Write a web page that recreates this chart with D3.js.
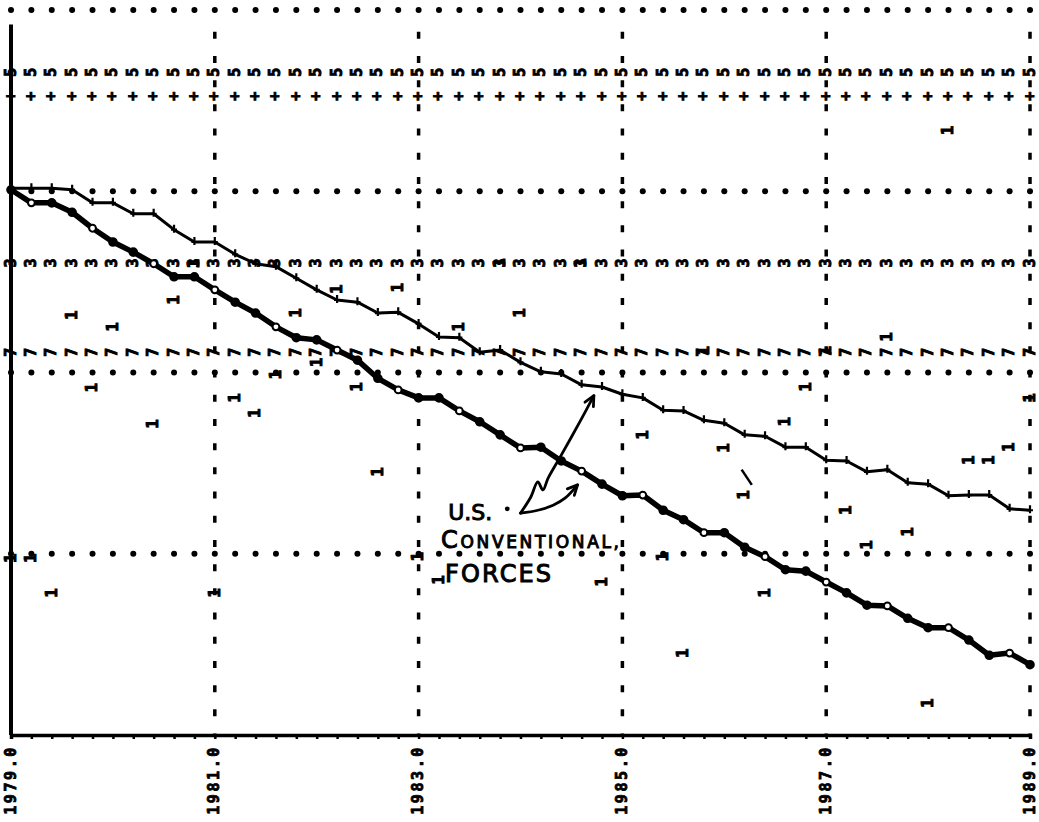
<!DOCTYPE html>
<html>
<head>
<meta charset="utf-8">
<script src="https://cdn.jsdelivr.net/npm/d3@7/dist/d3.min.js"></script>
<style>
  body { margin: 0; background: #fff; }
  svg { display: block; }
</style>
</head>
<body>
<div id="chart"></div>
<script>
// sample points along the time axis (every 0.2 yr, as on the printout)
const years = [1979.0, 1979.2, 1979.4, 1979.6, 1979.8, 1980.0, 1980.2, 1980.4, 1980.6, 1980.8,
  1981.0, 1981.2, 1981.4, 1981.6, 1981.8, 1982.0, 1982.2, 1982.4, 1982.6, 1982.8,
  1983.0, 1983.2, 1983.4, 1983.6, 1983.8, 1984.0, 1984.2, 1984.4, 1984.6, 1984.8,
  1985.0, 1985.2, 1985.4, 1985.6, 1985.8, 1986.0, 1986.2, 1986.4, 1986.6, 1986.8,
  1987.0, 1987.2, 1987.4, 1987.6, 1987.8, 1988.0, 1988.2, 1988.4, 1988.6, 1988.8, 1989.0];

// thin upper trace
const upperSeries = [75.4, 75.4, 75.4, 75.2, 73.4, 73.4, 71.9, 71.9, 69.7, 68.0,
  68.0, 66.3, 65.0, 64.6, 63.0, 61.4, 60.0, 59.7, 58.2, 58.3,
  56.7, 54.9, 54.8, 52.8, 53.1, 51.4, 50.1, 49.8, 48.3, 48.0,
  47.0, 46.5, 44.8, 44.7, 43.4, 43.0, 41.4, 41.2, 39.7, 39.7,
  37.9, 37.8, 36.3, 36.6, 34.8, 34.6, 33.0, 33.1, 33.1, 31.2, 31.0];

// heavy lower trace
const lowerSeries = [75.2, 73.4, 73.4, 72.1, 69.9, 68.0, 66.6, 65.0, 63.2, 63.2,
  61.4, 59.7, 58.2, 56.3, 54.8, 54.5, 53.1, 51.7, 49.2, 47.6,
  46.5, 46.5, 44.7, 43.2, 41.4, 39.6, 39.7, 37.8, 36.4, 34.6,
  33.0, 33.1, 31.0, 29.7, 27.9, 27.9, 25.9, 24.6, 22.8, 22.6,
  21.1, 19.6, 17.9, 17.8, 16.1, 14.8, 14.8, 13.1, 11.0, 11.3, 9.7];

// constant reference rows printed with a character
const refMarks = ["5", "+", "3", "7"];
const refValues = [91.4, 88.1, 65.1, 52.8];

// scattered "1" points [year, value]
const onePoints = [
  [1979.6, 57.9], [1980.0, 56.3], [1980.6, 60.0], [1980.8, 65.0], [1979.8, 47.9],
  [1981.2, 46.5], [1981.4, 44.4], [1980.4, 42.9], [1981.8, 58.2], [1982.0, 51.4],
  [1981.6, 49.7], [1982.2, 61.5], [1982.8, 61.7], [1983.4, 56.3], [1984.0, 58.2],
  [1983.8, 65.1], [1984.6, 65.1], [1982.4, 48.0], [1987.6, 54.9], [1986.8, 48.0],
  [1986.6, 43.2], [1989.0, 46.5], [1979.2, 24.4], [1979.0, 24.4], [1979.4, 19.6],
  [1981.0, 19.6], [1982.6, 36.3], [1985.2, 41.4], [1983.0, 24.6], [1983.2, 21.4],
  [1984.8, 21.1], [1985.4, 24.6], [1985.6, 11.3], [1986.0, 39.6], [1988.8, 39.7],
  [1988.4, 37.9], [1988.6, 37.9], [1986.2, 33.1], [1987.2, 31.0], [1987.8, 28.0],
  [1987.4, 26.2], [1986.4, 19.6], [1988.0, 4.4], [1985.8, 53.0], [1987.0, 53.0],
  [1988.2, 83.4]
];

const xTicks = [1979, 1981, 1983, 1985, 1987, 1989];
const yGrid = [25, 50, 75, 100];

const width = 1039, height = 822;

const svg = d3.select("#chart").append("svg")
  .attr("width", width)
  .attr("height", height)
  .style("background", "#fff");

const x = d3.scaleLinear().domain([1979, 1989]).range([11, 1030]);
const y = d3.scaleLinear().domain([0, 100]).range([735, 10]);

const mono = "'DejaVu Sans Mono', 'Liberation Mono', monospace";

// printer glyph, rotated like the sideways printout
const glyph = (sel, size) => sel
  .attr("text-anchor", "middle")
  .attr("dy", "0.3em")
  .attr("stroke", "#000")
  .attr("stroke-width", 0.9)
  .style("font-family", mono)
  .style("font-weight", "bold")
  .style("font-size", size + "px");

// horizontal dotted grid
yGrid.forEach(v => {
  svg.append("g").selectAll("circle")
    .data(years)
    .join("circle")
      .attr("cx", d => x(d))
      .attr("cy", y(v))
      .attr("r", 3)
      .attr("fill", "#000");
});

// vertical dashed grid
svg.append("g").selectAll("line")
  .data(xTicks.slice(1))
  .join("line")
    .attr("x1", d => x(d)).attr("x2", d => x(d))
    .attr("y1", y(97)).attr("y2", y(0))
    .attr("stroke", "#000")
    .attr("stroke-width", 3.5)
    .attr("stroke-dasharray", "7 17.2");

// rows of characters
refMarks.forEach((m, k) => {
  svg.append("g").selectAll("text")
    .data(years)
    .join("text")
      .attr("transform", d => `translate(${x(d)},${y(refValues[k])}) rotate(-90)`)
      .call(glyph, 15)
      .text(m);
});

// scattered "1" marks
svg.append("g").selectAll("text")
  .data(onePoints)
  .join("text")
    .attr("transform", d => `translate(${x(d[0])},${y(d[1])}) rotate(-90)`)
    .call(glyph, 16)
    .text("1");

// x axis with small ticks every step
const xAxisG = svg.append("g")
  .attr("transform", `translate(0,${y(0)})`)
  .call(d3.axisBottom(x).tickValues(years).tickSize(4).tickFormat(""));
xAxisG.select(".domain").attr("stroke-width", 3.5);
xAxisG.selectAll(".tick line").attr("stroke-width", 2.5);

// x tick labels, rotated like the printout
svg.append("g").selectAll("text")
  .data(xTicks)
  .join("text")
    .attr("transform", d => `translate(${x(d)},745) rotate(-90)`)
    .attr("text-anchor", "end")
    .attr("dy", "0.3em")
    .attr("stroke", "#000")
    .attr("stroke-width", 0.8)
    .style("font-family", mono)
    .style("font-weight", "bold")
    .style("font-size", "15px")
    .style("letter-spacing", "2.6px")
    .text(d => d3.format(".1f")(d));

// left axis
svg.append("line")
  .attr("x1", x(1979)).attr("x2", x(1979))
  .attr("y1", y(98)).attr("y2", y(0))
  .attr("stroke", "#000")
  .attr("stroke-width", 4);

// traces
const line = (vals) => d3.line()
  .x((d, i) => x(years[i]))
  .y(d => y(d))(vals);

svg.append("path")
  .attr("d", line(upperSeries))
  .attr("fill", "none")
  .attr("stroke", "#000")
  .attr("stroke-width", 3)
  .attr("stroke-linejoin", "round");

svg.append("g").selectAll("path")
  .data(upperSeries)
  .join("path")
    .attr("d", (d, i) => {
      const cx = x(years[i]), cy = y(d);
      return `M${cx - 3},${cy}H${cx + 3}M${cx},${cy - 5}V${cy + 3}`;
    })
    .attr("stroke", "#000")
    .attr("stroke-width", 2.2);

svg.append("path")
  .attr("d", line(lowerSeries))
  .attr("fill", "none")
  .attr("stroke", "#000")
  .attr("stroke-width", 5.5)
  .attr("stroke-linejoin", "round");

svg.append("g").selectAll("circle")
  .data(lowerSeries)
  .join("circle")
    .attr("cx", (d, i) => x(years[i]))
    .attr("cy", d => y(d))
    .attr("r", (d, i) => i % 3 === 1 ? 3.4 : 3.8)
    .attr("fill", (d, i) => i % 3 === 1 ? "#fff" : "#000")
    .attr("stroke", "#000")
    .attr("stroke-width", 2);

// handwritten note
const longArrow = [[1984.00, 30.6], [1984.10, 32.8], [1984.17, 34.9], [1984.22, 33.8],
  [1984.27, 35.4], [1984.40, 38.6], [1984.59, 43.4], [1984.72, 46.8]];
const shortArrow = [[1984.00, 30.6], [1984.17, 31.0], [1984.32, 31.7], [1984.44, 32.7], [1984.56, 34.5]];

const pen = d3.line().x(d => x(d[0])).y(d => y(d[1])).curve(d3.curveCatmullRom);
[longArrow, shortArrow].forEach(pts => {
  svg.append("path")
    .attr("d", pen(pts))
    .attr("fill", "none")
    .attr("stroke", "#000")
    .attr("stroke-width", 2.8)
    .attr("stroke-linecap", "round");
  // arrow head
  const [a, b] = [pts[pts.length - 2], pts[pts.length - 1]];
  const tx = x(b[0]), ty = y(b[1]);
  const ang = Math.atan2(ty - y(a[1]), tx - x(a[0]));
  const hl = 11;
  svg.append("path")
    .attr("d", `M${tx - hl * Math.cos(ang - 0.45)},${ty - hl * Math.sin(ang - 0.45)}L${tx},${ty}L${tx - hl * Math.cos(ang + 0.45)},${ty - hl * Math.sin(ang + 0.45)}`)
    .attr("fill", "none")
    .attr("stroke", "#000")
    .attr("stroke-width", 2.8)
    .attr("stroke-linecap", "round")
    .attr("stroke-linejoin", "round");
});

svg.append("circle")
  .attr("cx", x(1983.87)).attr("cy", y(31.2))
  .attr("r", 2.4).attr("fill", "#000");

svg.append("line")
  .attr("x1", x(1986.17)).attr("y1", y(36.6))
  .attr("x2", x(1986.27)).attr("y2", y(34.5))
  .attr("stroke", "#000").attr("stroke-width", 2.5);

const hand = "'DejaVu Sans', 'Liberation Sans', sans-serif";
const note = svg.append("g")
  .style("font-family", hand)
  .attr("fill", "#000")
  .attr("stroke", "#000")
  .attr("stroke-width", 1);

note.append("text")
  .attr("x", x(1983.29)).attr("y", y(29.7))
  .style("font-size", "22px")
  .text("U.S.");

const conv = note.append("text")
  .attr("x", x(1983.22)).attr("y", y(25.8))
  .attr("textLength", 178)
  .attr("lengthAdjust", "spacing");
conv.append("tspan").style("font-size", "24px").text("C");
conv.append("tspan").style("font-size", "17px").text("ONVENTIONAL,");

note.append("text")
  .attr("x", x(1983.26)).attr("y", y(21.1))
  .attr("textLength", 106)
  .attr("lengthAdjust", "spacing")
  .style("font-size", "24px")
  .text("FORCES");
</script>
</body>
</html>
